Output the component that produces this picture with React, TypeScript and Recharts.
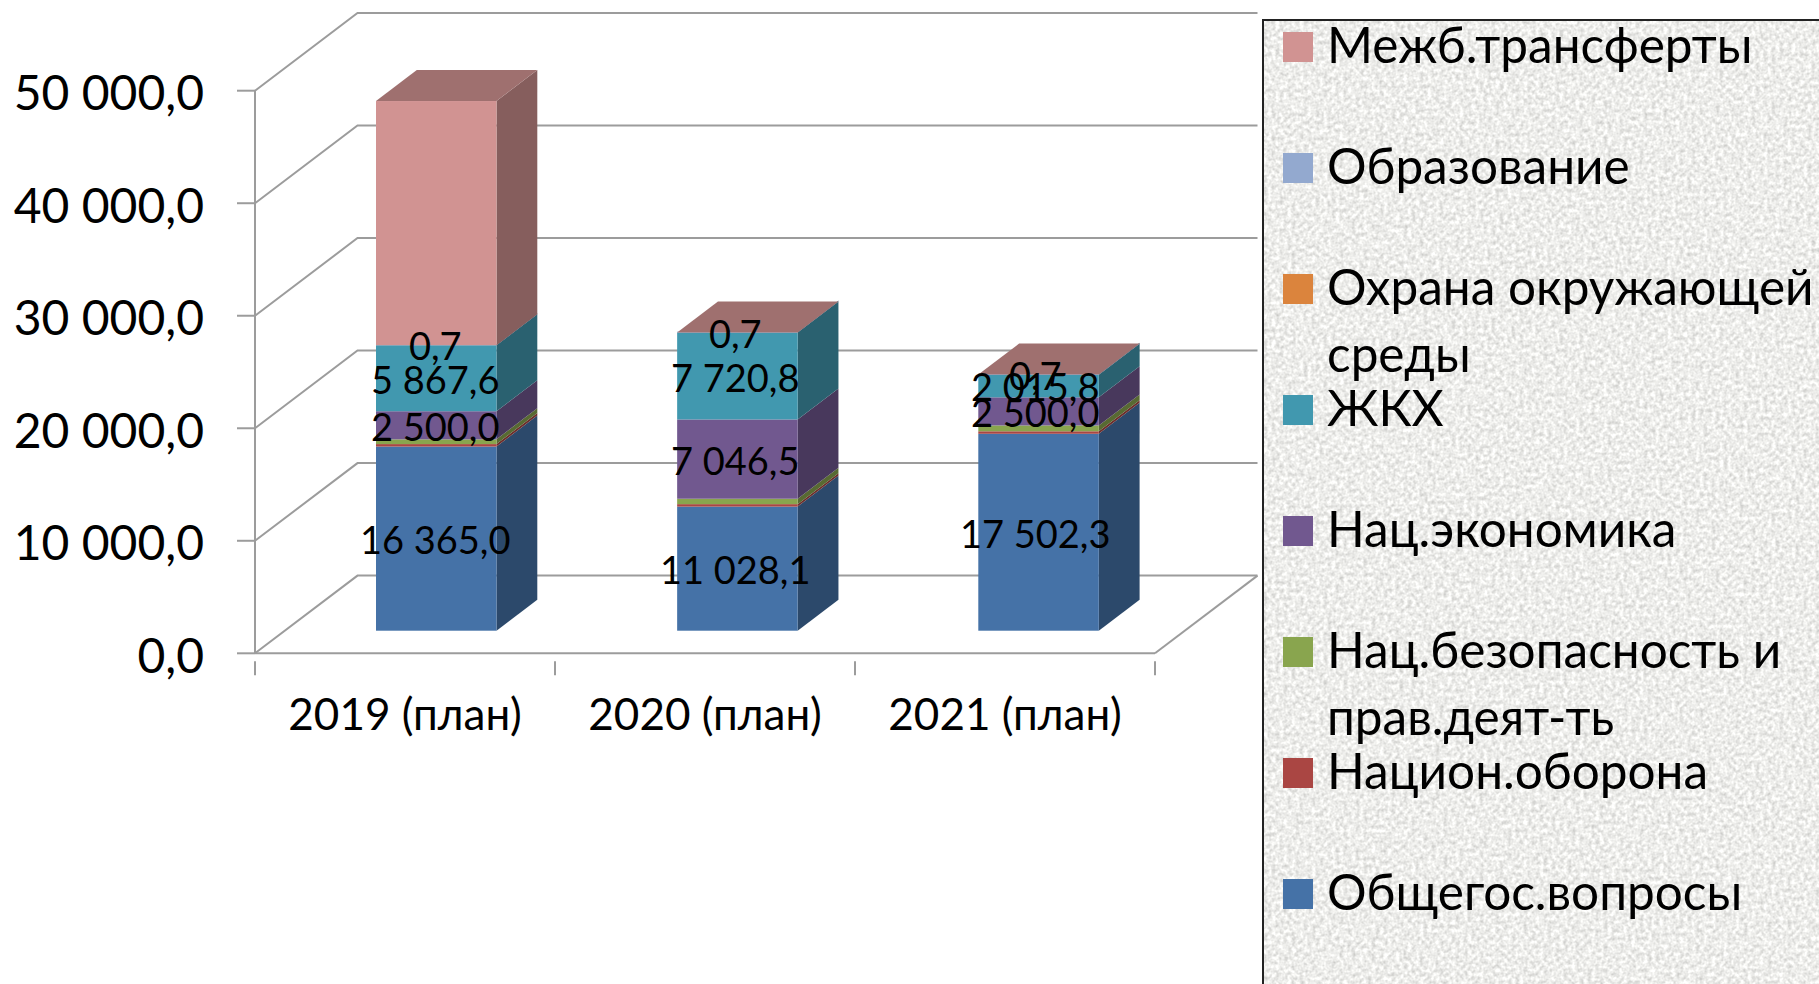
import { Bar, BarChart, CartesianGrid, LabelList, Legend, XAxis, YAxis } from "recharts";

const years = ["2019 (план)", "2020 (план)", "2021 (план)"];
const yTicks = [0, 10000, 20000, 30000, 40000, 50000];

const general = [16365.0, 11028.1, 17502.3];
const defense = [220, 220, 220];
const security = [420, 480, 520];
const economy = [2500.0, 7046.5, 2500.0];
const housing = [5867.6, 7720.8, 2015.8];
const environment = [0, 0, 0];
const education = [0.7, 0.7, 0.7];
const transfers = [21700, 0, 0];

const chartData = years.map((year, i) => ({
  year,
  general: general[i],
  defense: defense[i],
  security: security[i],
  economy: economy[i],
  housing: housing[i],
  environment: environment[i],
  education: education[i],
  transfers: transfers[i],
}));

const FONT = "Lato, 'Open Sans', sans-serif";
const AXIS_GRAY = "#9c9c9c";
const BAND = 300;

// 3d look: back wall offset and bar depth, in px
const WALL_DX = 102.5;
const WALL_DY = 77.7;
const BAR_SHIFT_X = 31;
const BAR_SHIFT_Y = 22.6;
const BAR_DX = 40.8;
const BAR_DY = 31;
const BAR_DRIFT = 1.15; // bars sit a hair wider apart than the category bands
const PLOT_BOTTOM = 653.3;

function shade(hex: string, k: number) {
  const n = parseInt(hex.slice(1), 16);
  const c = [n >> 16, (n >> 8) & 255, n & 255].map((v) => Math.round(v * k));
  return `rgb(${c[0]},${c[1]},${c[2]})`;
}

function formatValue(v: number) {
  const [whole, frac] = Number(v).toFixed(1).split(".");
  return `${whole.replace(/\B(?=(\d{3})+$)/g, " ")},${frac}`;
}

function makeBarShape(isTop: boolean) {
  return function BarShape(props: any) {
    const { x, y, width, height, fill, index } = props;
    const fx = x + BAR_SHIFT_X + index * BAR_DRIFT;
    const fy = y - BAR_SHIFT_Y;
    const r = fx + width;
    const b = fy + height;
    return (
      <g>
        <polygon
          points={`${r},${fy} ${r + BAR_DX},${fy - BAR_DY} ${r + BAR_DX},${b - BAR_DY} ${r},${b}`}
          fill={shade(fill, 0.64)}
        />
        {isTop && (
          <polygon
            points={`${fx},${fy} ${fx + BAR_DX},${fy - BAR_DY} ${r + BAR_DX},${fy - BAR_DY} ${r},${fy}`}
            fill={shade(fill, 0.76)}
          />
        )}
        <rect x={fx} y={fy} width={width} height={height} fill={fill} />
      </g>
    );
  };
}

function renderValueLabel(props: any) {
  const { x, y, width, height, value } = props;
  return (
    <text
      x={x + width / 2 + BAR_SHIFT_X - 1}
      y={y + height / 2 - BAR_SHIFT_Y + 2}
      dy="0.355em"
      textAnchor="middle"
      fontFamily={FONT}
      fontSize={38}
      fill="#000"
    >
      {formatValue(value)}
    </text>
  );
}

function renderWallLine(props: any) {
  const { x1, x2, y1, key } = props;
  const backY = y1 - WALL_DY;
  return (
    <g key={key}>
      <polyline
        points={`${x1},${y1} ${x1 + WALL_DX},${backY} ${x2 + WALL_DX},${backY}`}
        fill="none"
        stroke={AXIS_GRAY}
        strokeWidth={2}
      />
      {y1 > PLOT_BOTTOM - 1 && (
        <line x1={x2} y1={y1} x2={x2 + WALL_DX} y2={backY} stroke={AXIS_GRAY} strokeWidth={2} />
      )}
    </g>
  );
}

function CategoryTick(props: any) {
  const { x, y, payload, index } = props;
  const left = x - BAND / 2;
  return (
    <g>
      <line x1={left} y1={y} x2={left} y2={y + 14} stroke={AXIS_GRAY} strokeWidth={2} />
      {index === years.length - 1 && (
        <line x1={left + BAND} y1={y} x2={left + BAND} y2={y + 14} stroke={AXIS_GRAY} strokeWidth={2} />
      )}
      <text x={x} y={730} textAnchor="middle" fontFamily={FONT} fontSize={44} fill="#000">
        {payload.value}
      </text>
    </g>
  );
}

function LegendPanel(props: any) {
  const items = [...(props.payload ?? [])].reverse();
  return (
    <div
      style={{
        position: "relative",
        width: 557,
        height: 965,
        borderTop: "2px solid #222",
        borderLeft: "2px solid #222",
        boxSizing: "border-box",
        fontFamily: FONT,
        fontSize: 49.5,
        lineHeight: "67px",
        color: "#000",
        textAlign: "left",
      }}
    >
      <svg width={555} height={963} style={{ position: "absolute", left: 0, top: 0 }}>
        <filter id="granite" colorInterpolationFilters="sRGB">
          <feTurbulence type="fractalNoise" baseFrequency="0.25" numOctaves={3} seed={4} />
          <feColorMatrix
            type="matrix"
            values="0.34 0 0 0 0.76  0.34 0 0 0 0.76  0.34 0 0 0 0.75  0 0 0 0 1"
          />
        </filter>
        <rect width={555} height={963} filter="url(#granite)" />
      </svg>
      {items.map((item: any, i: number) => (
        <div key={item.value} style={{ position: "absolute", left: 0, top: i * 121 }}>
          <div style={{ position: "absolute", left: 19, top: 11, width: 30, height: 30, background: item.color }} />
          <div style={{ position: "absolute", left: 63, top: -10.5, width: 490 }}>{item.value}</div>
        </div>
      ))}
    </div>
  );
}

const topShape = makeBarShape(true);
const plainShape = makeBarShape(false);

export default function App() {
  return (
    <div style={{ position: "absolute", left: 0, top: 0, width: 1819, height: 984, background: "#fff" }}>
      <BarChart
        width={1819}
        height={984}
        data={chartData}
        barSize={120.5}
        margin={{ top: 90.7, right: 664, bottom: 270.7, left: 0 }}
      >
        <CartesianGrid vertical={false} horizontal={renderWallLine} />
        <XAxis
          dataKey="year"
          height={60}
          interval={0}
          tick={CategoryTick}
          tickLine={false}
          axisLine={{ stroke: AXIS_GRAY, strokeWidth: 2 }}
        />
        <YAxis
          width={255}
          domain={[0, 50000]}
          ticks={yTicks}
          tickFormatter={formatValue}
          tickSize={18}
          tickMargin={33}
          axisLine={{ stroke: AXIS_GRAY, strokeWidth: 2 }}
          tickLine={{ stroke: AXIS_GRAY, strokeWidth: 2 }}
          tick={{ fill: "#000", fontSize: 48, fontFamily: FONT, dy: 2.5 }}
        />
        <Legend
          layout="horizontal"
          align="center"
          verticalAlign="middle"
          itemSorter={null}
          content={LegendPanel}
          wrapperStyle={{ left: 1262, top: 19, width: 557, height: 965, margin: 0 }}
        />
        <Bar dataKey="general" name="Общегос.вопросы" stackId="a" fill="#4572A7" shape={plainShape} isAnimationActive={false}>
          <LabelList dataKey="general" content={renderValueLabel} />
        </Bar>
        <Bar dataKey="defense" name="Национ.оборона" stackId="a" fill="#AA4643" shape={plainShape} isAnimationActive={false} />
        <Bar dataKey="security" name="Нац.безопасность и прав.деят-ть" stackId="a" fill="#89A54E" shape={plainShape} isAnimationActive={false} />
        <Bar dataKey="economy" name="Нац.экономика" stackId="a" fill="#71588F" shape={plainShape} isAnimationActive={false}>
          <LabelList dataKey="economy" content={renderValueLabel} />
        </Bar>
        <Bar dataKey="housing" name="ЖКХ" stackId="a" fill="#4198AF" shape={plainShape} isAnimationActive={false}>
          <LabelList dataKey="housing" content={renderValueLabel} />
        </Bar>
        <Bar dataKey="environment" name="Охрана окружающей среды" stackId="a" fill="#DB843D" shape={plainShape} isAnimationActive={false} />
        <Bar dataKey="education" name="Образование" stackId="a" fill="#93A9CF" minPointSize={1} shape={plainShape} isAnimationActive={false}>
          <LabelList dataKey="education" content={renderValueLabel} />
        </Bar>
        <Bar dataKey="transfers" name="Межб.трансферты" stackId="a" fill="#D19392" shape={topShape} isAnimationActive={false} />
      </BarChart>
    </div>
  );
}
